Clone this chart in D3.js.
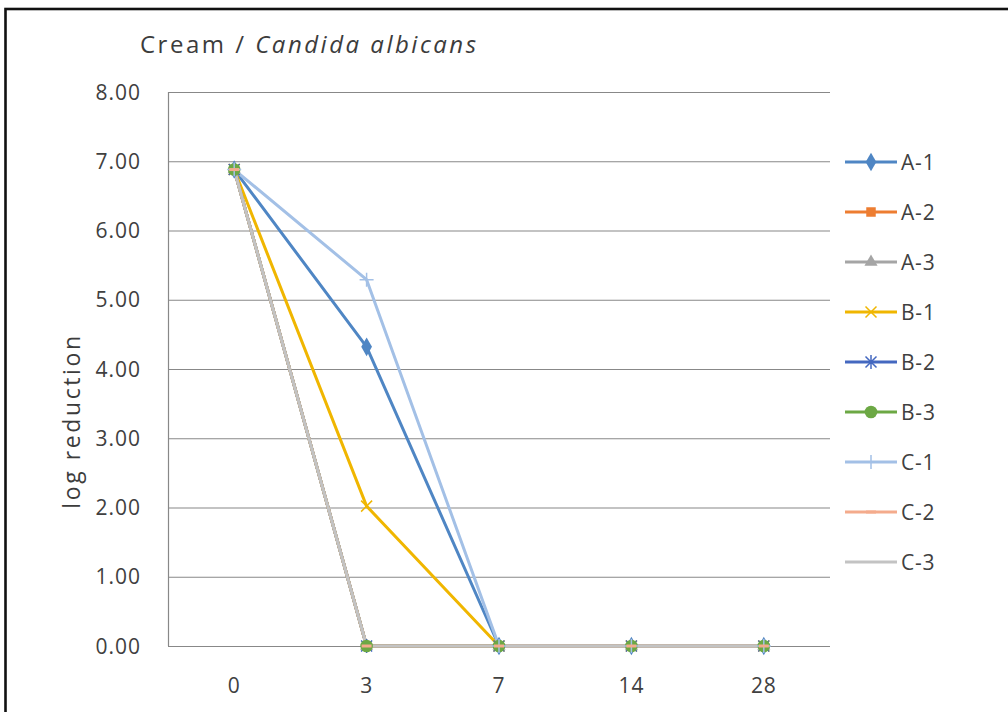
<!DOCTYPE html>
<html><head><meta charset="utf-8">
<script src="https://cdn.jsdelivr.net/npm/d3@7"></script>
<style>
body{margin:0;background:#fff}
svg{display:block}
text{font-family:"Open Sans",sans-serif}
</style>
</head><body><svg id="c" width="1008" height="712"></svg>
<script>
// ---- data ----
const days = ["0","3","7","14","28"];
const seriesNames = ["A-1","A-2","A-3","B-1","B-2","B-3","C-1","C-2","C-3"];
const valsA1 = [6.88, 4.32, 0, 0, 0];
const valsA2 = [6.88, 0, 0, 0, 0];
const valsA3 = [6.88, 0, 0, 0, 0];
const valsB1 = [6.88, 2.02, 0, 0, 0];
const valsB2 = [6.88, 0, 0, 0, 0];
const valsB3 = [6.88, 0, 0, 0, 0];
const valsC1 = [6.88, 5.29, 0, 0, 0];
const valsC2 = [6.88, 0, 0, 0, 0];
const valsC3 = [6.88, 0, 0, 0, 0];
const yTicks = [0,1,2,3,4,5,6,7,8];
const titleMain = "Cream / ";
const titleItalic = "Candida albicans";
const yTitle = "log reduction";

// ---- styles ----
const colors = ["#4f86c4","#ed7d31","#a5a5a5","#f0b600","#4468c0","#6ca844","#a3c0e6","#f4ab8c","#c3c3c3"];
const markers = ["diamond","square","triangle","times","asterisk","circle","plus","dash","none"];
const allVals = [valsA1,valsA2,valsA3,valsB1,valsB2,valsB3,valsC1,valsC2,valsC3];
const series = seriesNames.map((n,i)=>({name:n, values:allVals[i], color:colors[i], marker:markers[i]}));

const svg = d3.select("#c");
const pL=168, pR=830, pT=92, pB=646;
const x = d3.scalePoint().domain(days).range([pL,pR]).padding(0.5);
const y = d3.scaleLinear().domain([0,8]).range([pB,pT]);

// outer border
svg.append("rect").attr("x",5.5).attr("y",9).attr("width",1020).attr("height",720)
  .attr("fill","#fff").attr("stroke","#111").attr("stroke-width",2.6);

// title
const tt = svg.append("text").attr("x",140).attr("y",53).attr("font-size",24)
  .attr("fill","#3c3c3c").attr("letter-spacing",2.5);
tt.append("tspan").text(titleMain);
tt.append("tspan").attr("font-style","italic").text(titleItalic);

// gridlines
svg.append("g").selectAll("line").data(yTicks).join("line")
  .attr("x1",pL).attr("x2",pR).attr("y1",d=>y(d)+0.5).attr("y2",d=>y(d)+0.5)
  .attr("stroke","#888").attr("stroke-width",1.2);
svg.append("line").attr("x1",pL+0.5).attr("x2",pL+0.5).attr("y1",pT).attr("y2",pB)
  .attr("stroke","#888").attr("stroke-width",1.2);

// y axis labels
svg.append("g").selectAll("text").data(yTicks).join("text")
  .attr("x",141).attr("y",d=>y(d)).attr("dy","0.36em").attr("text-anchor","end")
  .attr("font-size",21).attr("fill","#404040").attr("letter-spacing",1)
  .text(d=>d3.format(".2f")(d));
// x axis labels
svg.append("g").selectAll("text").data(days).join("text")
  .attr("x",d=>x(d)).attr("y",693).attr("text-anchor","middle")
  .attr("font-size",21).attr("fill","#404040").attr("letter-spacing",0.8)
  .text(d=>d);
// y title
svg.append("text").attr("transform","translate(80,421) rotate(-90)")
  .attr("text-anchor","middle").attr("font-size",23).attr("fill","#3c3c3c")
  .attr("letter-spacing",2.6).text(yTitle);

// marker drawer
function drawMarker(g, type, color){
  if(type==="diamond") g.append("path").attr("d",d3.symbol(d3.symbolDiamond,100)()).attr("fill",color);
  else if(type==="square") g.append("path").attr("d",d3.symbol(d3.symbolSquare,90)()).attr("fill",color);
  else if(type==="triangle") g.append("path").attr("d",d3.symbol(d3.symbolTriangle,75)()).attr("fill",color);
  else if(type==="circle") g.append("path").attr("d",d3.symbol(d3.symbolCircle,125)()).attr("fill",color);
  else if(type==="times") g.append("path").attr("d","M-5.5,-5.5L5.5,5.5M-5.5,5.5L5.5,-5.5").attr("stroke",color).attr("stroke-width",1.5).attr("fill","none");
  else if(type==="asterisk") g.append("path").attr("d","M-5.5,-5.5L5.5,5.5M-5.5,5.5L5.5,-5.5M0,-7L0,7").attr("stroke",color).attr("stroke-width",1.5).attr("fill","none");
  else if(type==="plus") g.append("path").attr("d","M-7,0L7,0M0,-7L0,7").attr("stroke",color).attr("stroke-width",1.5).attr("fill","none");
  else if(type==="dash") g.append("path").attr("d","M-5,0L5,0").attr("stroke",color).attr("stroke-width",3).attr("fill","none");
}

// lines
const line = d3.line().x((d,i)=>x(days[i])).y(d=>y(d));
const lg = svg.append("g");
series.forEach(s=>{
  lg.append("path").attr("d",line(s.values)).attr("fill","none")
    .attr("stroke",s.color).attr("stroke-width",3).attr("stroke-linejoin","round");
});
// markers
series.forEach(s=>{
  s.values.forEach((v,i)=>{
    const g = svg.append("g").attr("transform",`translate(${x(days[i])},${y(v)})`);
    drawMarker(g, s.marker, s.color);
  });
});

// legend
const leg = svg.append("g");
series.forEach((s,i)=>{
  const ly = 162 + i*50;
  const g = leg.append("g").attr("transform",`translate(0,${ly})`);
  g.append("line").attr("x1",845).attr("x2",897).attr("y1",0).attr("y2",0)
    .attr("stroke",s.color).attr("stroke-width",3);
  const m = g.append("g").attr("transform","translate(871,0)");
  drawMarker(m, s.marker, s.color);
  g.append("text").attr("x",901).attr("y",0).attr("dy","0.36em")
    .attr("font-size",21).attr("fill","#404040").attr("letter-spacing",0.8).text(s.name);
});
</script>
</body></html>
